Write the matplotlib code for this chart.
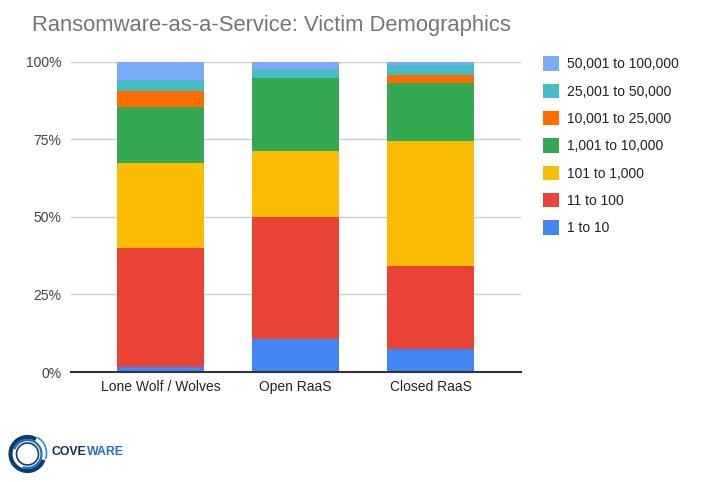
import matplotlib
matplotlib.use("Agg")
import matplotlib.pyplot as plt
from matplotlib.patches import Arc, Patch
import numpy as np

plt.rcParams["font.family"] = ["Liberation Sans", "DejaVu Sans"]

categories = ["Lone Wolf / Wolves", "Open RaaS", "Closed RaaS"]
series_labels = ["1 to 10", "11 to 100", "101 to 1,000", "1,001 to 10,000",
                 "10,001 to 25,000", "25,001 to 50,000", "50,001 to 100,000"]
# percent of victims per company-size bucket
size_1_10 = [1.6, 10.5, 7.5]
size_11_100 = [38.4, 39.5, 26.6]
size_101_1k = [27.3, 21.1, 40.4]
size_1k_10k = [18.0, 23.5, 18.6]
size_10k_25k = [5.3, 0.0, 2.7]
size_25k_50k = [3.6, 2.7, 3.0]
size_50k_100k = [5.8, 2.7, 1.2]

series = [size_1_10, size_11_100, size_101_1k, size_1k_10k,
          size_10k_25k, size_25k_50k, size_50k_100k]
colors = ["#4285F4", "#EA4335", "#FBBC04", "#34A853",
          "#FF6D01", "#46BDC6", "#7BAAF7"]

fig = plt.figure(figsize=(7.10, 4.82), dpi=100)
ax = fig.add_axes([0.1, 0.2282, 0.6338, 0.6442])

x = np.arange(len(categories))
bottom = np.zeros(len(categories))
for vals, col in zip(series, colors):
    vals = np.array(vals)
    ax.bar(x, vals, width=0.645, bottom=bottom, color=col, zorder=3,
           edgecolor="none")
    bottom += vals

ax.set_xlim(-0.663, 2.67)
ax.set_ylim(0, 100)
ax.set_yticks([0, 25, 50, 75, 100])
ax.set_yticklabels(["0%", "25%", "50%", "75%", "100%"])
ax.set_xticks(x)
ax.set_xticklabels(categories)
ax.tick_params(axis="both", length=0, labelsize=10, colors="#444444")
ax.tick_params(axis="y", pad=7)
ax.tick_params(axis="x", pad=6, labelcolor="#222222")
ax.grid(axis="y", color="#cccccc", linewidth=1, zorder=0)
for s in ["top", "right", "left"]:
    ax.spines[s].set_visible(False)
ax.spines["bottom"].set_color("#333333")
ax.spines["bottom"].set_linewidth(1.5)
ax.spines["bottom"].set_zorder(4)

fig.text(32 / 710, 1 - 25 / 482, "Ransomware-as-a-Service: Victim Demographics",
         fontsize=15.8, color="#757575", va="center", ha="left")

handles = [Patch(facecolor=c, edgecolor="none") for c in colors][::-1]
fig.legend(handles, series_labels[::-1], loc="upper left",
           bbox_to_anchor=(530 / 710, 1 - 44 / 482), frameon=False,
           prop={"family": ["Liberation Sans", "DejaVu Sans"], "size": 10},
           handlelength=1.2, handleheight=1.2,
           handletextpad=0.55, labelspacing=0.9, labelcolor="#222222")

# coveware logo
logo = fig.add_axes([0, 0, 1, 1], zorder=-1)
logo.set_xlim(0, 710)
logo.set_ylim(482, 0)
logo.axis("off")
cx, cy = 27.5, 454
logo.add_patch(Arc((cx, cy), 34, 34, theta1=20, theta2=300, color="#0d3b73", lw=3))
logo.add_patch(Arc((cx, cy), 28, 28, theta1=200, theta2=470, color="#1f6fb8", lw=1.6))
logo.add_patch(Arc((cx, cy), 22, 22, theta1=0, theta2=360, color="#0d3b73", lw=1.2))
logo.add_patch(Arc((cx + 1, cy - 1), 36, 36, theta1=300, theta2=380, color="#2a8ad8", lw=1.2))
cove = logo.text(52, 452, "COVE", fontsize=8.8, fontweight="bold", color="#10305f",
                 va="center", ha="left")
logo.annotate("WARE", xy=(1, 0.5), xycoords=cove, fontsize=8.8, fontweight="bold",
              color="#1c75c4", va="center", ha="left")

fig.savefig("out.png", dpi=100)
